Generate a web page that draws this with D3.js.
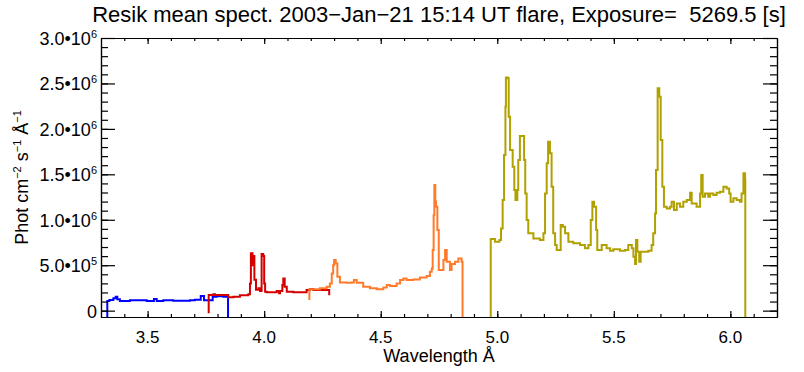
<!DOCTYPE html>
<html>
<head>
<meta charset="utf-8">
<script src="https://cdn.jsdelivr.net/npm/d3@7"></script>
<style>
  body { margin: 0; background: #fff; }
  text { font-family: "Liberation Sans", Arial, sans-serif; fill: #000; }
</style>
</head>
<body>
<div id="chart"></div>
<script>
// flux values are in units of 10^6 phot cm^-2 s^-1 A^-1
const blueWave = [3.327, 3.327, 3.336, 3.353, 3.363, 3.370, 3.381, 3.424, 3.496, 3.527,
    3.539, 3.567, 3.610, 3.682, 3.703, 3.728, 3.742, 3.760, 3.779, 3.796,
    3.825, 3.845, 3.845];
const blueFlux = [-0.1, 0.106, 0.117, 0.135, 0.153, 0.124, 0.106, 0.113, 0.106, 0.128,
    0.106, 0.113, 0.109, 0.113, 0.120, 0.160, 0.113, 0.113, 0.153, 0.157,
    0.153, 0.150, -0.1];

const redWave = [3.762, 3.762, 3.782, 3.789, 3.846, 3.868, 3.896, 3.932, 3.939, 3.943,
    3.950, 3.953, 3.958, 3.965, 3.975, 3.982, 3.989, 3.996, 4.000, 4.004,
    4.011, 4.046, 4.054, 4.064, 4.068, 4.078, 4.082, 4.088, 4.097, 4.125,
    4.182, 4.197, 4.211, 4.240, 4.279, 4.279];
const redFlux = [-0.03, 0.172, 0.179, 0.172, 0.146, 0.153, 0.168, 0.179, 0.30, 0.631,
    0.50, 0.60, 0.34, 0.23, 0.245, 0.216, 0.623, 0.60, 0.30, 0.208,
    0.201, 0.201, 0.216, 0.19, 0.216, 0.282, 0.355, 0.263, 0.208, 0.201,
    0.227, 0.238, 0.227, 0.227, 0.227, 0.168];

const orangeWave = [4.194, 4.194, 4.211, 4.239, 4.268, 4.282, 4.290, 4.296, 4.300, 4.307,
    4.314, 4.325, 4.354, 4.375, 4.385, 4.397, 4.425, 4.454, 4.483, 4.511,
    4.526, 4.540, 4.554, 4.568, 4.583, 4.597, 4.611, 4.640, 4.668, 4.697,
    4.711, 4.719, 4.723, 4.727, 4.730, 4.734, 4.737, 4.743, 4.749, 4.761,
    4.769, 4.776, 4.783, 4.797, 4.804, 4.819, 4.833, 4.847, 4.851];
const orangeFlux = [0.117, 0.234, 0.234, 0.245, 0.263, 0.300, 0.41, 0.50, 0.557, 0.52,
    0.374, 0.311, 0.308, 0.311, 0.337, 0.308, 0.263, 0.245, 0.234, 0.255,
    0.282, 0.27, 0.271, 0.30, 0.337, 0.355, 0.337, 0.344, 0.366, 0.381,
    0.428, 0.465, 0.667, 1.05, 1.382, 1.2, 1.143, 0.887, 0.447, 0.447,
    0.557, 0.667, 0.538, 0.447, 0.513, 0.538, 0.575, 0.538, -0.1];

const oliveWave = [4.972, 4.972, 4.990, 5.009, 5.016, 5.023, 5.029, 5.035, 5.037, 5.045,
    5.049, 5.055, 5.066, 5.073, 5.078, 5.086, 5.090, 5.097, 5.109, 5.115,
    5.120, 5.126, 5.133, 5.155, 5.183, 5.198, 5.205, 5.212, 5.218, 5.226,
    5.233, 5.240, 5.248, 5.255, 5.269, 5.272, 5.281, 5.291, 5.305, 5.326,
    5.355, 5.376, 5.391, 5.401, 5.408, 5.415, 5.424, 5.429, 5.448, 5.469,
    5.484, 5.498, 5.526, 5.548, 5.562, 5.577, 5.584, 5.591, 5.595, 5.601,
    5.609, 5.615, 5.627, 5.648, 5.662, 5.669, 5.677, 5.681, 5.688, 5.695,
    5.701, 5.708, 5.715, 5.727, 5.741, 5.748, 5.758, 5.770, 5.784, 5.798,
    5.813, 5.827, 5.834, 5.855, 5.870, 5.875, 5.881, 5.891, 5.905, 5.913,
    5.927, 5.941, 5.955, 5.970, 5.984, 5.995, 6.001, 6.013, 6.027, 6.041,
    6.048, 6.056, 6.063, 6.064];
const oliveFlux = [-0.1, 0.788, 0.758, 0.777, 0.905, 1.217, 1.712, 2.243, 2.566, 2.556,
    2.133, 1.767, 1.583, 1.327, 1.217, 1.327, 1.657, 1.921, 1.921, 1.657,
    1.290, 0.997, 0.851, 0.795, 0.777, 0.851, 1.290, 1.621, 1.858, 1.731,
    1.363, 0.851, 0.722, 0.667, 0.667, 0.942, 0.923, 0.851, 0.758, 0.741,
    0.722, 0.686, 0.722, 0.997, 1.198, 1.143, 0.887, 0.667, 0.722, 0.686,
    0.659, 0.675, 0.659, 0.667, 0.722, 0.686, 0.593, 0.513, 0.777, 0.648,
    0.538, 0.648, 0.648, 0.659, 0.722, 0.851, 1.070, 1.547, 2.446, 2.353,
    1.877, 1.363, 1.143, 1.125, 1.143, 1.198, 1.107, 1.180, 1.143, 1.198,
    1.217, 1.297, 1.180, 1.143, 1.290, 1.492, 1.253, 1.290, 1.253, 1.290,
    1.272, 1.297, 1.308, 1.363, 1.345, 1.290, 1.198, 1.236, 1.217, 1.198,
    1.290, 1.511, 1.437, -0.1];

const xTickValues = [3.5, 4.0, 4.5, 5.0, 5.5, 6.0];
const xTickLabels = ["3.5", "4.0", "4.5", "5.0", "5.5", "6.0"];
const yTickValues = [0, 0.5, 1.0, 1.5, 2.0, 2.5, 3.0];
const yTickMant = ["0", "5.0\u202210", "1.0\u202210", "1.5\u202210", "2.0\u202210", "2.5\u202210", "3.0\u202210"];
const yTickExp = ["", "5", "6", "6", "6", "6", "6"];

const W = 804, H = 372;
const margin = {top: 38, right: 27, bottom: 55, left: 101};
const width = W - margin.left - margin.right;
const height = H - margin.top - margin.bottom;

const svg = d3.select("#chart").append("svg")
    .attr("width", W)
    .attr("height", H);

const g = svg.append("g")
    .attr("transform", `translate(${margin.left},${margin.top})`);

let x = d3.scaleLinear().domain([3.3, 6.2]).range([0, width]);
let y = d3.scaleLinear().domain([-0.07, 3.0]).range([height, 0]);

g.append("clipPath").attr("id", "clip")
    .append("rect").attr("width", width).attr("height", height);

let line = d3.line()
    .x(d => x(d[0]))
    .y(d => y(d[1]))
    .curve(d3.curveStepAfter);

const series = [
    {wave: blueWave, flux: blueFlux, color: "#0000ff"},
    {wave: redWave, flux: redFlux, color: "#d40000"},
    {wave: orangeWave, flux: orangeFlux, color: "#ff7a2a"},
    {wave: oliveWave, flux: oliveFlux, color: "#b0a000"}
];

series.forEach(s => {
    g.append("path")
        .datum(s.wave.map((w, i) => [w, s.flux[i]]))
        .attr("clip-path", "url(#clip)")
        .attr("fill", "none")
        .attr("stroke", s.color)
        .attr("stroke-width", 2)
        .attr("d", line);
});

// minor / major ticks, all pointing inwards (IDL style)
const xMinor = d3.range(34, 62).map(v => v / 10);
const yMinor = d3.range(0, 30).map(v => v / 10);

function drawAxis(axisGen, transform) {
    let a = g.append("g").attr("transform", transform).call(axisGen);
    a.select(".domain").attr("stroke", "#000").attr("stroke-width", 1.2);
    a.selectAll(".tick line").attr("stroke", "#000").attr("stroke-width", 1.2);
    a.selectAll("text").remove();
    return a;
}

drawAxis(d3.axisBottom(x).tickValues(xMinor).tickSize(-3).tickSizeOuter(0), `translate(0,${height})`);
drawAxis(d3.axisBottom(x).tickValues(xTickValues).tickSize(-6).tickSizeOuter(0), `translate(0,${height})`);
drawAxis(d3.axisTop(x).tickValues(xMinor).tickSize(-3).tickSizeOuter(0), `translate(0,0)`);
drawAxis(d3.axisTop(x).tickValues(xTickValues).tickSize(-6).tickSizeOuter(0), `translate(0,0)`);
drawAxis(d3.axisLeft(y).tickValues(yMinor).tickSize(-7).tickSizeOuter(0), `translate(0,0)`);
drawAxis(d3.axisLeft(y).tickValues(yTickValues).tickSize(-14).tickSizeOuter(0), `translate(0,0)`);
drawAxis(d3.axisRight(y).tickValues(yMinor).tickSize(-7).tickSizeOuter(0), `translate(${width},0)`);
drawAxis(d3.axisRight(y).tickValues(yTickValues).tickSize(-14).tickSizeOuter(0), `translate(${width},0)`);

// tick labels
g.selectAll(".xlab").data(xTickValues).enter().append("text")
    .attr("class", "xlab")
    .attr("x", d => x(d))
    .attr("y", height + 26)
    .attr("text-anchor", "middle")
    .style("font-size", "17px")
    .text((d, i) => xTickLabels[i]);

let ylab = g.selectAll(".ylab").data(yTickValues).enter().append("text")
    .attr("class", "ylab")
    .attr("x", -4)
    .attr("y", d => y(d) + 7)
    .attr("text-anchor", "end")
    .style("font-size", "18px");
ylab.append("tspan").text((d, i) => yTickMant[i]);
ylab.append("tspan")
    .attr("dy", -7)
    .style("font-size", "11px")
    .text((d, i) => yTickExp[i]);

// titles
svg.append("text")
    .attr("x", margin.left + width / 2)
    .attr("y", 22)
    .attr("text-anchor", "middle")
    .style("font-size", "22px")
    .style("white-space", "pre")
    .text("Resik mean spect. 2003\u2212Jan\u221221 15:14 UT flare, Exposure=  5269.5 [s]");

svg.append("text")
    .attr("x", margin.left + width / 2)
    .attr("y", 362)
    .attr("text-anchor", "middle")
    .style("font-size", "18px")
    .text("Wavelength \u00c5");

let yt = svg.append("text")
    .attr("transform", `translate(28,${margin.top + height / 2}) rotate(-90)`)
    .attr("text-anchor", "middle")
    .style("font-size", "18px");
yt.append("tspan").text("Phot cm");
yt.append("tspan").attr("dy", -7).style("font-size", "11px").text("\u22122");
yt.append("tspan").attr("dy", 7).text(" s");
yt.append("tspan").attr("dy", -7).style("font-size", "11px").text("\u22121");
yt.append("tspan").attr("dy", 7).text(" \u00c5");
yt.append("tspan").attr("dy", -7).style("font-size", "11px").text("\u22121");
</script>
</body>
</html>
